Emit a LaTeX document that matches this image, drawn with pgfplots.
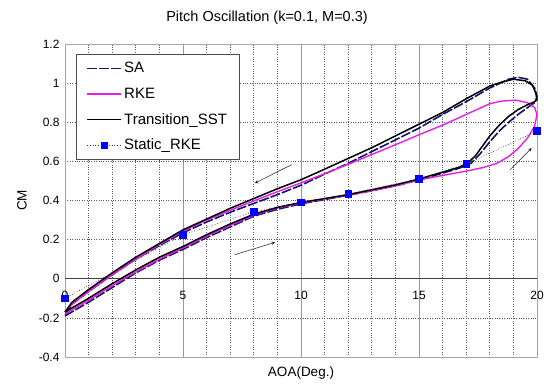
\documentclass[border=0pt]{standalone}
\usepackage{pgfplots}
\pgfplotsset{compat=1.18}
\usepackage{fontspec}
\setmainfont{Liberation Sans}
\definecolor{sanavy}{RGB}{20,20,110}
\definecolor{rkemag}{RGB}{230,30,230}
\definecolor{mblue}{RGB}{0,0,255}
\begin{document}
\begin{tikzpicture}
\useasboundingbox (-65pt,-28pt) rectangle (486pt,357pt);
\begin{axis}[
  scale only axis, width=472pt, height=313pt,
  xmin=0, xmax=20, ymin=-0.4, ymax=1.2,
  clip=false,
  xtick={0,5,10,15,20}, minor xtick={1,2,3,4,6,7,8,9,11,12,13,14,16,17,18,19},
  xticklabels={},
  ytick={-0.4,-0.2,0,0.2,0.4,0.6,0.8,1,1.2},
  grid=both,
  major x grid style={gray!80, line width=0.8pt, solid},
  minor x grid style={gray!70!black, dotted, line width=0.7pt},
  major y grid style={gray!70!black, dotted, line width=0.7pt},
  major tick length=0pt, minor tick length=0pt,
  axis line style={gray!70, line width=0.8pt},
  /pgf/number format/assume math mode=true,
  yticklabel style={font=\fontsize{12}{14}\selectfont, xshift=-2pt},
  ylabel={CM}, ylabel style={font=\fontsize{13.5}{15}\selectfont, at={(axis description cs:-0.091,0.5)}, anchor=center},
  xlabel={AOA(Deg.)}, xlabel style={font=\fontsize{13.5}{15}\selectfont, at={(axis description cs:0.5,0)}, anchor=center, yshift=-16pt},
  legend style={at={(axis description cs:0.0233,0.968)}, anchor=north west, draw=gray!60!black, line width=0.9pt, fill=white,
    font=\fontsize{15}{17}\selectfont, row sep=9.5pt, inner xsep=10pt, inner ysep=6pt, cells={anchor=west}},
  legend image code/.code={\draw[mark repeat=2,mark phase=2,#1] plot coordinates {(0cm,0cm) (0.6cm,0cm) (1.2cm,0cm)};},
]
\draw[gray!50!black, line width=1.1pt] (axis cs:0,0) -- (axis cs:20,0);
\node[anchor=north, inner sep=0pt, font=\fontsize{12}{14}\selectfont] at (axis cs:0,0) [yshift=-12pt] {0};
\node[anchor=north, inner sep=0pt, font=\fontsize{12}{14}\selectfont] at (axis cs:5,0) [yshift=-12pt] {5};
\node[anchor=north, inner sep=0pt, font=\fontsize{12}{14}\selectfont] at (axis cs:10,0) [yshift=-12pt] {10};
\node[anchor=north, inner sep=0pt, font=\fontsize{12}{14}\selectfont] at (axis cs:15,0) [yshift=-12pt] {15};
\node[anchor=north, inner sep=0pt, font=\fontsize{12}{14}\selectfont] at (axis cs:20,0) [yshift=-12pt] {20};
\addplot[sanavy, line width=1.6pt, dash pattern=on 10pt off 2pt] coordinates {
(0,-0.19) (1,-0.12) (2,-0.045) (3,0.03) (4,0.095) (5,0.15) (6,0.21) (7,0.265) (8,0.32) (9,0.355) (10,0.383) (11,0.405) (12,0.427) (13,0.45) (14,0.475) (15,0.505) (16,0.54) (16.7,0.565) (17.2,0.59) (17.6,0.64) (18,0.7) (18.4,0.755) (18.8,0.8) (19.2,0.84) (19.6,0.875) (19.9,0.9) (20,0.93)
(19.9,0.975) (19.6,1.02) (19.2,1.03) (18.8,1.02) (18,0.975) (17,0.905) (16,0.84) (15,0.77) (14,0.71) (13,0.65) (12,0.59) (11,0.535) (10,0.478) (9,0.43) (8,0.385) (7,0.34) (6,0.29) (5,0.235) (4,0.17) (3,0.1) (2,0.02) (1,-0.065) (0.3,-0.13) (0,-0.19)
};
\addlegendentry{SA}
\addplot[rkemag, line width=1.4pt] coordinates {
(0,-0.18) (1,-0.11) (2,-0.035) (3,0.035) (4,0.1) (5,0.158) (6,0.218) (7,0.272) (8,0.325) (9,0.362) (10,0.387) (11,0.408) (12,0.428) (13,0.45) (14,0.475) (15,0.505) (16,0.528) (17,0.55) (17.7,0.568) (18.3,0.59) (18.8,0.625) (19.2,0.665) (19.6,0.72) (19.9,0.78) (20,0.84)
(19.9,0.875) (19.6,0.9) (19.1,0.913) (18.5,0.908) (18,0.895) (17,0.84) (16,0.785) (15,0.736) (14,0.685) (13,0.635) (12,0.585) (11,0.537) (10,0.49) (9,0.445) (8,0.398) (7,0.35) (6,0.3) (5,0.243) (4,0.175) (3,0.1) (2,0.02) (1,-0.065) (0.3,-0.13) (0,-0.17)
};
\addlegendentry{RKE}
\addplot[black, line width=1.5pt] coordinates {
(0,-0.17) (1,-0.10) (2,-0.025) (3,0.045) (4,0.11) (5,0.165) (6,0.225) (7,0.28) (8,0.33) (9,0.365) (10,0.39) (11,0.41) (12,0.43) (13,0.455) (14,0.48) (15,0.51) (16,0.545) (16.7,0.57) (17.1,0.595) (17.4,0.63) (17.7,0.68) (18,0.73) (18.4,0.785) (18.8,0.83) (19.2,0.865) (19.6,0.89) (19.9,0.905) (20,0.915)
(19.95,0.95) (19.8,0.99) (19.5,1.012) (19.0,1.02) (18.5,1.005) (18,0.985) (17,0.92) (16,0.85) (15,0.79) (14,0.73) (13,0.67) (12,0.615) (11,0.56) (10,0.506) (9,0.46) (8,0.41) (7,0.36) (6,0.305) (5,0.25) (4,0.18) (3,0.11) (2,0.03) (1,-0.055) (0.3,-0.12) (0,-0.17)
};
\addlegendentry{Transition\_SST}
\addplot[gray!40!black, dotted, line width=0.7pt, mark=square*, mark size=3.3pt, mark options={solid, fill=mblue, draw=mblue}] coordinates {
(0,-0.1) (5,0.225) (8,0.342) (10,0.39) (12,0.433) (15,0.51) (17,0.586) (20,0.755)
};
\addlegendentry{Static\_RKE}
\draw[-stealth, gray!20!black, line width=0.5pt] (axis cs:9.6,0.583) -- (axis cs:8.05,0.489);
\draw[-stealth, gray!20!black, line width=0.5pt] (axis cs:7.2,0.123) -- (axis cs:8.9,0.186);
\draw[-stealth, gray!20!black, line width=0.5pt] (axis cs:18.86,0.557) -- (axis cs:19.77,0.668);
\end{axis}
\node[font=\fontsize{14.5}{16}\selectfont] at (202pt,339pt) {Pitch Oscillation (k=0.1, M=0.3)};
\end{tikzpicture}
\end{document}
